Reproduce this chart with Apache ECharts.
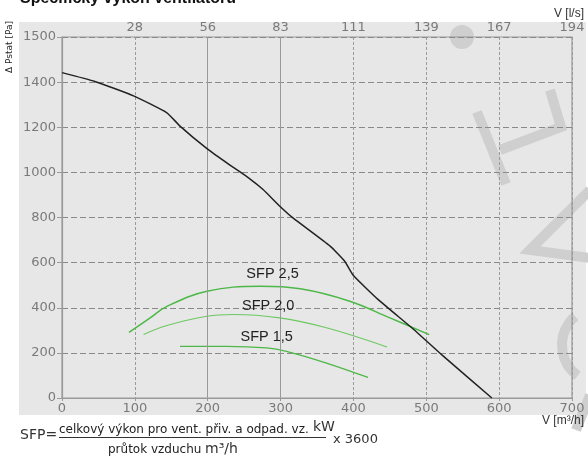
<!DOCTYPE html>
<html>
<head>
<meta charset="utf-8">
<script src="https://cdn.jsdelivr.net/npm/echarts@6/dist/echarts.min.js"></script>
<style>
html,body{margin:0;padding:0;background:#fff;}
#c{width:588px;height:459px;}
</style>
</head>
<body>
<div id="c"></div>
<script>
// ---- data ----
const flowM3h = [0,45,99,144,162,199,231,256,276,299,317,368,388,400,434,482,521,590];
const pressurePa = [1442,1403,1338,1264,1205,1105,1031,976,924,850,798,673,606,543,436,306,192,0];

const sfp25Flow = [92,121,144,199,272,327,395,450,504];
const sfp25Pa   = [291,355,406,473,495,484,429,355,281];
const sfp20Flow = [112,144,199,235,299,363,446];
const sfp20Pa   = [281,321,362,370,355,311,226];
const sfp15Flow = [162,226,281,308,363,420];
const sfp15Pa   = [229,229,222,207,155,91];

const sfpNames = ['SFP 2,5','SFP 2,0','SFP 1,5'];
const sfpLabelFlow = [289,283,281];
const sfpLabelPa = [549,407,271];

const xTicks = [0,100,200,300,400,500,600,700];
const lsTickLabels = ['','28','56','83','111','139','167','194'];
const yTicks = [0,200,400,600,800,1000,1200,1400,1600];
const yTickLabels = ['0','200','400','600','800','1000','1200','1400','1500'];

const pairs = (xs, ys) => xs.map((x,i)=>[x, ys[i]]);

const chart = echarts.init(document.getElementById('c'), null, {renderer:'canvas'});
const tickFont = {fontFamily:'DejaVu Sans', fontSize:13, color:'#7a7a7a'};
const green1 = '#4db848', green2 = '#6cc862';

function labelPoint(i){
  return {
    symbol:'circle', symbolSize:0, silent:true,
    label:{show:true, position:'inside', formatter:sfpNames[i], fontFamily:'Liberation Sans', fontSize:14.5, color:'#222'},
    data:[{coord:[sfpLabelFlow[i], sfpLabelPa[i]]}]
  };
}

chart.setOption({
  animation:false,
  backgroundColor:'#fff',
  grid:{left:62, right:16, top:37, bottom:61, show:true, borderColor:'#9a9a9a', borderWidth:1.2, backgroundColor:'transparent'},
  xAxis:[{
    type:'value', min:0, max:700, interval:100, position:'bottom',
    axisLine:{show:true, onZero:false, lineStyle:{color:'#9a9a9a', width:1.2}},
    axisTick:{show:true, length:3, lineStyle:{color:'#9a9a9a'}},
    axisLabel:Object.assign({margin:4, formatter:v=>String(xTicks[xTicks.indexOf(v)])}, tickFont),
    splitLine:{show:true, lineStyle:{color:'#9a9a9a', type:[3,2], width:1}}
  },{
    type:'value', min:0, max:700, interval:100, position:'top',
    axisLine:{show:false}, axisTick:{show:false},
    axisLabel:Object.assign({margin:3, formatter:v=>lsTickLabels[xTicks.indexOf(v)]}, tickFont),
    splitLine:{show:false}
  }],
  yAxis:{
    type:'value', min:0, max:1600, interval:200,
    axisLine:{show:true, lineStyle:{color:'#9a9a9a', width:1.2}},
    axisTick:{show:true, length:5, lineStyle:{color:'#9a9a9a'}},
    axisLabel:Object.assign({margin:6, formatter:v=>yTickLabels[yTicks.indexOf(v)]}, tickFont),
    splitLine:{show:true, lineStyle:{color:'#8a8a8a', type:[6,3], width:1}}
  },
  graphic:[
    {type:'rect', z:-10, silent:true, shape:{x:19, y:22, width:567, height:393}, style:{fill:'#e7e7e7'}},
    // watermark
    {type:'circle', z:-5, silent:true, shape:{cx:462, cy:37, r:12}, style:{fill:'#cfcfcf'}},
    {type:'polyline', z:-5, silent:true, shape:{points:[[477,112],[506,184]]}, style:{stroke:'#cfcfcf', lineWidth:10}},
    {type:'polyline', z:-5, silent:true, shape:{points:[[500,150],[561,127],[550,90]]}, style:{stroke:'#cfcfcf', lineWidth:10}},
    {type:'polyline', z:-5, silent:true, shape:{points:[[590,190],[530,250],[590,258]]}, style:{stroke:'#cfcfcf', lineWidth:10}},
    {type:'arc', z:-5, silent:true, shape:{cx:600, cy:345, r:38, startAngle:2.2, endAngle:4.0}, style:{stroke:'#cfcfcf', lineWidth:10, fill:null}},
    {type:'polyline', z:-5, silent:true, shape:{points:[[590,395],[576,430]]}, style:{stroke:'#cfcfcf', lineWidth:10}},
    // title (cut off at top)
    {type:'text', x:20, y:-9, style:{text:'Specifický výkon ventilátoru', font:'bold 16px "Liberation Sans"', fill:'#111', verticalAlign:'top'}},
    // axis names
    {type:'text', x:5, y:73, rotation:Math.PI/2, style:{text:'Δ Pstat [Pa]', font:'9px "DejaVu Sans"', fill:'#222', align:'left', verticalAlign:'top'}},
    {type:'text', x:554, y:8, style:{text:'V [l/s]', font:'12px "Liberation Sans"', fill:'#333', verticalAlign:'top'}},
    {type:'text', x:542, y:415, style:{text:'V [m³/h]', font:'12px "Liberation Sans"', fill:'#333', verticalAlign:'top'}},
    // formula
    {type:'text', x:20, y:428, style:{text:'SFP=', font:'14px "DejaVu Sans"', fill:'#333', verticalAlign:'top'}},
    {type:'text', x:59, y:424, style:{text:'celkový výkon pro vent. přiv. a odpad. vz.', font:'12px "DejaVu Sans"', fill:'#222', verticalAlign:'top'}},
    {type:'text', x:313, y:420, style:{text:'kW', font:'14px "DejaVu Sans"', fill:'#333', verticalAlign:'top'}},
    {type:'line', shape:{x1:59, y1:437.5, x2:326, y2:437.5}, style:{stroke:'#333', lineWidth:1}},
    {type:'text', x:333, y:433, style:{text:'x 3600', font:'13px "DejaVu Sans"', fill:'#333', verticalAlign:'top'}},
    {type:'text', x:108, y:444, style:{text:'průtok vzduchu', font:'12px "DejaVu Sans"', fill:'#222', verticalAlign:'top'}},
    {type:'text', x:205, y:442, style:{text:'m³/h', font:'14px "DejaVu Sans"', fill:'#333', verticalAlign:'top'}}
  ],
  series:[
    {type:'line', name:'fan', data:pairs(flowM3h, pressurePa), showSymbol:false, smooth:0.15,
     lineStyle:{color:'#222', width:1.5}, z:5,
     markLine:{silent:true, symbol:'none', label:{show:false}, lineStyle:{color:'#9a9a9a', type:'solid', width:1},
       data:[{xAxis:200},{xAxis:300}]}},
    {type:'line', name:sfpNames[0], data:pairs(sfp25Flow, sfp25Pa), showSymbol:false, smooth:0.4,
     lineStyle:{color:green1, width:1.5}, z:4, markPoint:labelPoint(0)},
    {type:'line', name:sfpNames[1], data:pairs(sfp20Flow, sfp20Pa), showSymbol:false, smooth:0.4,
     lineStyle:{color:green2, width:1.1}, z:4, markPoint:labelPoint(1)},
    {type:'line', name:sfpNames[2], data:pairs(sfp15Flow, sfp15Pa), showSymbol:false, smooth:0.4,
     lineStyle:{color:green1, width:1.3}, z:4, markPoint:labelPoint(2)}
  ]
});
</script>
</body>
</html>
